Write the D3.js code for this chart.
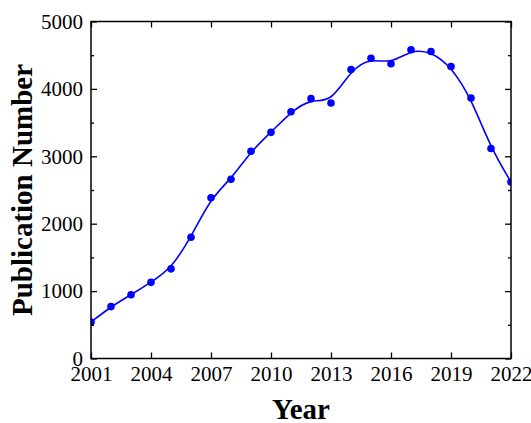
<!DOCTYPE html>
<html>
<head>
<meta charset="utf-8">
<script src="https://cdn.jsdelivr.net/npm/d3@7"></script>
<style>
  html, body { margin: 0; padding: 0; background: #fff; }
  svg { display: block; }
  text { font-family: "Liberation Serif", "Times New Roman", serif; }
</style>
</head>
<body>
<svg id="chart" width="531" height="423"></svg>
<script>
// Annual publication counts
const years = [2001, 2002, 2003, 2004, 2005, 2006, 2007, 2008, 2009, 2010, 2011,
               2012, 2013, 2014, 2015, 2016, 2017, 2018, 2019, 2020, 2021, 2022];
const publications = [540, 770, 945, 1130, 1330, 1800, 2385, 2660, 3076, 3355, 3660,
                      3855, 3790, 4288, 4454, 4373, 4580, 4554, 4333, 3865, 3116, 2618];
const xTicks = [2001, 2004, 2007, 2010, 2013, 2016, 2019, 2022];
const yTicks = [0, 1000, 2000, 3000, 4000, 5000];
const yMinorTicks = [500, 1500, 2500, 3500, 4500];

const svg = d3.select("#chart");
const plotLeft = 91, plotRight = 511, plotTop = 21.5, plotBottom = 358.5;

const x = d3.scaleLinear().domain([2001, 2022]).range([plotLeft, plotRight]);
const y = d3.scaleLinear().domain([0, 5000]).range([plotBottom, plotTop]);

const blue = "#0000ff";

// clip region for the data marks
svg.append("defs").append("clipPath").attr("id", "plotClip")
  .append("rect")
  .attr("x", plotLeft).attr("y", plotTop)
  .attr("width", plotRight - plotLeft).attr("height", plotBottom - plotTop);

// smoothed trend line
const line = d3.line()
  .x((d, i) => x(years[i]))
  .y(d => y(d))
  .curve(d3.curveBasis);

const plot = svg.append("g").attr("clip-path", "url(#plotClip)");
plot.append("path")
  .datum(publications)
  .attr("d", line)
  .attr("fill", "none")
  .attr("stroke", blue)
  .attr("stroke-width", 1.6);

plot.selectAll("circle")
  .data(publications)
  .join("circle")
  .attr("cx", (d, i) => x(years[i]))
  .attr("cy", d => y(d))
  .attr("r", 3.8)
  .attr("fill", blue);

// axes with inward ticks
function styleAxis(g) {
  g.select(".domain").remove();
  g.selectAll(".tick line").attr("stroke", "#000").attr("stroke-width", 1.3);
  g.selectAll(".tick text").attr("fill", "#000").style("font-size", "21px")
    .style("font-family", "'Liberation Serif', 'Times New Roman', serif");
}

svg.append("g")
  .attr("transform", `translate(0,${plotBottom})`)
  .call(d3.axisBottom(x).tickValues(xTicks).tickFormat(d3.format("d"))
    .tickSizeInner(-6).tickSizeOuter(0).tickPadding(8))
  .call(styleAxis);

svg.append("g")
  .attr("transform", `translate(0,${plotTop})`)
  .call(d3.axisTop(x).tickValues(xTicks).tickFormat("")
    .tickSizeInner(-6).tickSizeOuter(0))
  .call(styleAxis);

svg.append("g")
  .attr("transform", `translate(${plotLeft},0)`)
  .call(d3.axisLeft(y).tickValues(yTicks).tickFormat(d3.format("d"))
    .tickSizeInner(-6).tickSizeOuter(0).tickPadding(8))
  .call(styleAxis);

svg.append("g")
  .attr("transform", `translate(${plotLeft},0)`)
  .call(d3.axisLeft(y).tickValues(yMinorTicks).tickFormat("")
    .tickSizeInner(-3).tickSizeOuter(0))
  .call(styleAxis);

svg.append("g")
  .attr("transform", `translate(${plotRight},0)`)
  .call(d3.axisRight(y).tickValues(yTicks).tickFormat("")
    .tickSizeInner(-6).tickSizeOuter(0))
  .call(styleAxis);

svg.append("g")
  .attr("transform", `translate(${plotRight},0)`)
  .call(d3.axisRight(y).tickValues(yMinorTicks).tickFormat("")
    .tickSizeInner(-3).tickSizeOuter(0))
  .call(styleAxis);

// plot frame
svg.append("rect")
  .attr("x", plotLeft).attr("y", plotTop)
  .attr("width", plotRight - plotLeft).attr("height", plotBottom - plotTop)
  .attr("fill", "none")
  .attr("stroke", "#000")
  .attr("stroke-width", 1.5);

// axis titles
svg.append("text")
  .attr("x", (plotLeft + plotRight) / 2)
  .attr("y", 419)
  .attr("text-anchor", "middle")
  .style("font-size", "29px")
  .style("font-weight", "bold")
  .text("Year");

svg.append("text")
  .attr("transform", `translate(32,${(plotTop + plotBottom) / 2}) rotate(-90)`)
  .attr("text-anchor", "middle")
  .style("font-size", "29px")
  .style("font-weight", "bold")
  .text("Publication Number");
</script>
</body>
</html>
